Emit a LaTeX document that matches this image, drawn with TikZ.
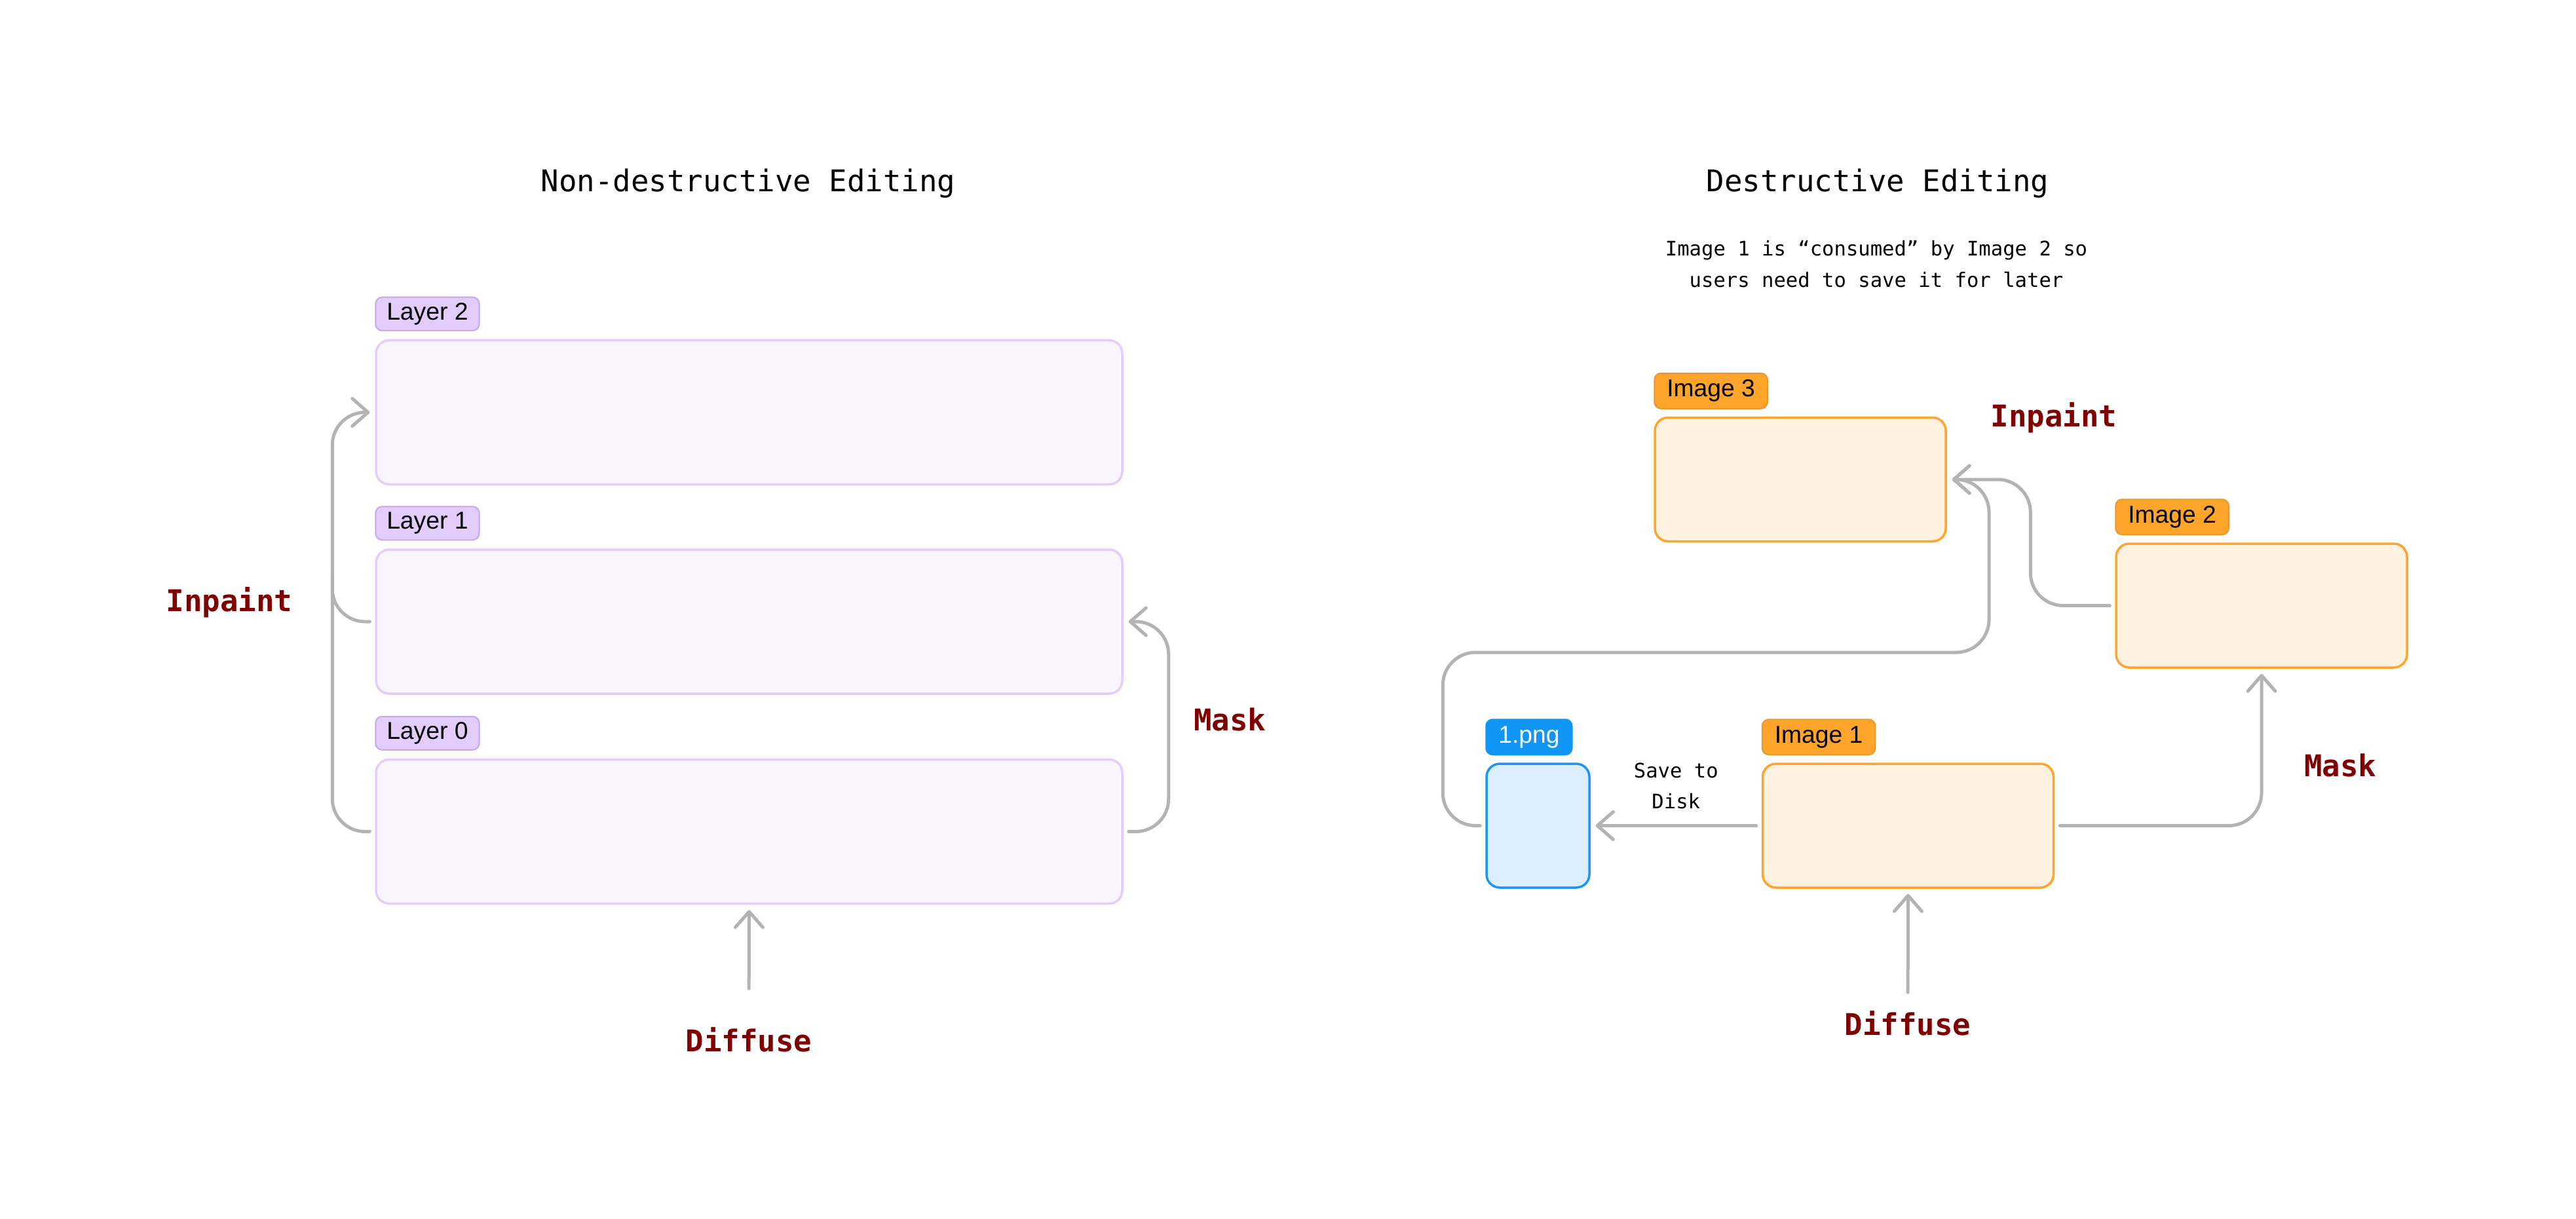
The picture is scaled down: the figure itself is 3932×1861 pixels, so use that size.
\documentclass[tikz,border=0pt]{standalone}
\usepackage{fontspec}
\setmainfont{Liberation Sans}
\newfontfamily\monofont{DejaVu Sans Mono}
\usetikzlibrary{positioning,arrows.meta}

\definecolor{wiregray}{HTML}{B3B3B3}
\definecolor{verbred}{HTML}{800000}
\definecolor{layerfill}{HTML}{F9F5FE}
\definecolor{layeredge}{HTML}{E4CCFC}
\definecolor{layertagfill}{HTML}{E3CCFB}
\definecolor{layertagedge}{HTML}{C8A8E0}
\definecolor{imgfill}{HTML}{FFF1DF}
\definecolor{imgedge}{HTML}{FFA52D}
\definecolor{imgtagfill}{HTML}{FFA52C}
\definecolor{imgtagedge}{HTML}{E8982E}
\definecolor{pngfill}{HTML}{DCEEFD}
\definecolor{pngedge}{HTML}{1C96F5}
\definecolor{pngtagfill}{HTML}{1296F5}

\tikzset{
  layerbox/.style={draw=layeredge, fill=layerfill, line width=0.35mm, rounded corners=2mm,
    minimum width=113.9mm, minimum height=22mm, inner sep=0pt},
  imagebox/.style={draw=imgedge, fill=imgfill, line width=0.35mm, rounded corners=2mm,
    minimum width=44.4mm, minimum height=18.9mm, inner sep=0pt},
  pngbox/.style={draw=pngedge, fill=pngfill, line width=0.35mm, rounded corners=2mm,
    minimum width=15.7mm, minimum height=18.9mm, inner sep=0pt},
  tag/.style={rounded corners=1mm, line width=0.2mm, minimum height=5.4mm,
    inner xsep=1.9mm, inner ysep=0pt, font=\fontsize{10.6}{12}\selectfont},
  layertag/.style={tag, draw=layertagedge, fill=layertagfill, minimum height=5.1mm, inner xsep=1.7mm},
  imagetag/.style={tag, draw=imgtagedge, fill=imgtagfill},
  pngtag/.style={tag, draw=pngtagfill, fill=pngtagfill, text=white},
  wire/.style={draw=wiregray, line width=0.5mm, line cap=round, rounded corners=5mm,
    shorten <=0.8mm, shorten >=0.8mm},
  flow/.style={wire, -{Straight Barb[length=2.4mm,width=4.2mm,round]}},
  verbtext/.style={font=\monofont\bfseries\fontsize{13}{15}\selectfont, text=verbred, inner sep=0pt},
  heading/.style={font=\monofont\fontsize{13}{15}\selectfont, inner sep=0pt},
  note/.style={font=\monofont\fontsize{8.7}{13.4}\selectfont, align=center, inner sep=0pt}
}

\begin{document}
\begin{tikzpicture}[x=0.1mm, y=-0.1mm]
  \useasboundingbox (0,0) rectangle (3932,1861);

  \node[heading, anchor=base] (lefttitle) at (1142,293) {Non-destructive Editing};
  \node[heading, anchor=base] (righttitle) at (2866,293) {Destructive Editing};
  \node[note, anchor=north] (consumed) at (2864,367) {Image 1 is “consumed” by Image 2 so\\users need to save it for later};

  \node[layerbox] (L2) at (1143.5,629.5) {};
  \node[layerbox] (L1) at (1143.5,949) {};
  \node[layerbox] (L0) at (1143.5,1269.5) {};
  \node[layertag, above right=1.2mm and 0mm of L2.north west] (L2tag) {Layer 2};
  \node[layertag, above right=1.2mm and 0mm of L1.north west] (L1tag) {Layer 1};
  \node[layertag, above right=1.2mm and 0mm of L0.north west] (L0tag) {Layer 0};

  \node[verbtext, anchor=base] (inpaintL) at (350,933) {Inpaint};
  \node[verbtext, anchor=base] (maskL) at (1877,1115) {Mask};
  \node[verbtext, anchor=base] (diffuseL) at (1143,1605) {Diffuse};

  \coordinate[above left=8mm and 6.5mm of L1.west] (merge);
  \draw[flow] (L0.west) -- ++(-6.5mm,0) |- (L2.west);
  \draw[wire] (L1.west) -| (merge);
  \draw[flow] (L0.east) -- ++(6.9mm,0) |- (L1.east);
  \draw[flow, shorten <=5.8mm] (diffuseL) -- (L0.south);

  \node[imagebox] (I3) at (2748,732) {};
  \node[imagebox] (I2) at (3452,924.5) {};
  \node[imagebox] (I1) at (2912.5,1260.5) {};
  \node[pngbox] (png) at (2347.5,1260.5) {};
  \node[imagetag, above right=1.1mm and 0mm of I3.north west] (I3tag) {Image 3};
  \node[imagetag, above right=1.1mm and 0mm of I2.north west] (I2tag) {Image 2};
  \node[imagetag, above right=1.1mm and 0mm of I1.north west] (I1tag) {Image 1};
  \node[pngtag, above right=1.1mm and 0mm of png.north west] (pngtag) {1.png};

  \node[verbtext, anchor=base] (inpaintR) at (3135,652) {Inpaint};
  \node[verbtext, anchor=base] (maskR) at (3572,1185) {Mask};
  \node[verbtext, anchor=base] (diffuseR) at (2912,1580) {Diffuse};

  \coordinate (loop) at (3036,996);
  \draw[flow] (I1.west) -- node[note, above=2.3mm] (savelbl) {Save to\\Disk} (png.east);
  \draw[flow] (png.west) -- ++(-6.5mm,0) |- (loop) |- (I3.east);
  \draw[flow] (I2.west) -- ++(-12.9mm,0) |- (I3.east);
  \draw[flow] (I1.east) -| (I2.south);
  \draw[flow, shorten <=2.7mm] (diffuseR) -- (I1.south);
\end{tikzpicture}
\end{document}
